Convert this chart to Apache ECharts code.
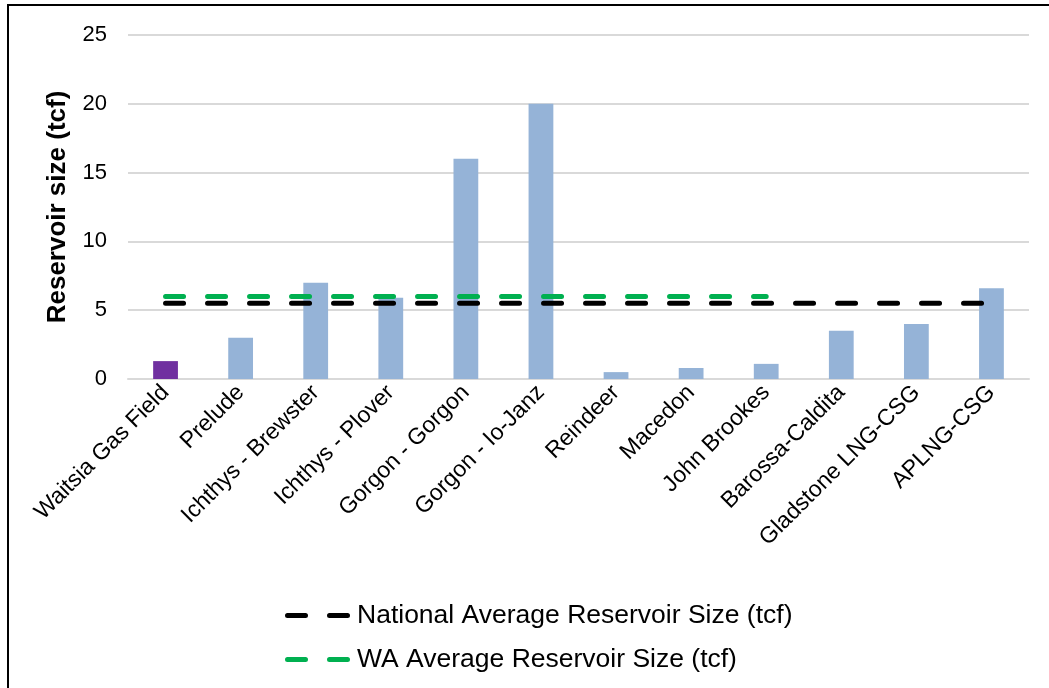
<!DOCTYPE html>
<html>
<head>
<meta charset="utf-8">
<script src="https://cdn.jsdelivr.net/npm/echarts@6/dist/echarts.min.js"></script>
<style>
html,body{margin:0;padding:0;background:#fff;}
#chart{width:1049px;height:688px;}
</style>
</head>
<body>
<div id="chart"></div>
<script>
const categories = ["Waitsia Gas Field","Prelude","Ichthys - Brewster","Ichthys - Plover","Gorgon - Gorgon","Gorgon - Io-Janz","Reindeer","Macedon","John Brookes","Barossa-Caldita","Gladstone LNG-CSG","APLNG-CSG"];
const reservoirSize = [1.3, 3.0, 7.0, 5.9, 16.0, 20.0, 0.5, 0.8, 1.1, 3.5, 4.0, 6.6];
const nationalAverage = [5.5,5.5,5.5,5.5,5.5,5.5,5.5,5.5,5.5,5.5,5.5,5.5];
const waAverage = [6.0,6.0,6.0,6.0,6.0,6.0,6.0,6.0,6.0,null,null,null];
const yTicks = [0,5,10,15,20,25];

const FONT = 'Liberation Sans, Arial, sans-serif';
const DASH_ICON = 'path://M2.5,0H20.5A2.5,2.5 0 0 1 20.5,5H2.5A2.5,2.5 0 0 1 2.5,0ZM44.5,0H62.5A2.5,2.5 0 0 1 62.5,5H44.5A2.5,2.5 0 0 1 44.5,0Z';
const chart = echarts.init(document.getElementById('chart'));
chart.setOption({
  backgroundColor:'#fff',
  animation:false,
  graphic:[{type:'rect',shape:{x:8,y:5,width:1100,height:800},style:{fill:'none',stroke:'#000',lineWidth:2},z:-1}],
  grid:{left:128,right:20,top:35,bottom:309,containLabel:false},
  legend:{
    data:[
      {name:'National Average Reservoir Size (tcf)',icon:DASH_ICON,itemStyle:{color:'#000'}},
      {name:'WA Average Reservoir Size (tcf)',icon:DASH_ICON,itemStyle:{color:'#00b050'}}
    ],
    orient:'vertical',left:280,top:597,itemWidth:65,itemHeight:5,itemGap:17,
    textStyle:{fontFamily:FONT,fontSize:26.5,color:'#000',padding:[0,0,0,2]}
  },
  xAxis:{
    type:'category',data:categories,
    axisLine:{lineStyle:{color:'#d9d9d9',width:2}},
    axisTick:{show:false},
    axisLabel:{rotate:45,interval:0,fontFamily:FONT,fontSize:23,color:'#000',margin:10}
  },
  yAxis:{
    type:'value',min:0,max:25,interval:5,
    name:'Reservoir size (tcf)',nameLocation:'middle',nameGap:57,
    nameTextStyle:{fontFamily:FONT,fontSize:26,fontWeight:'bold',color:'#000'},
    axisLine:{show:false},axisTick:{show:false},
    axisLabel:{fontFamily:FONT,fontSize:22,color:'#000',margin:21,formatter:v=>yTicks.includes(v)?String(v):''},
    splitLine:{lineStyle:{color:'#d9d9d9',width:2}}
  },
  series:[
    {type:'bar',name:'Reservoir size',barWidth:'33%',
     data:reservoirSize.map((v,i)=>({value:v,itemStyle:{color:i===0?'#7030a0':'#95b3d7'}})),z:2},
    {type:'line',name:'National Average Reservoir Size (tcf)',data:nationalAverage,symbol:'none',
     lineStyle:{color:'#000',width:5,type:[18,24],cap:'round'},itemStyle:{color:'#000'},z:3},
    {type:'line',name:'WA Average Reservoir Size (tcf)',data:waAverage,symbol:'none',
     lineStyle:{color:'#00b050',width:5,type:[18,24],cap:'round'},itemStyle:{color:'#00b050'},z:3}
  ]
});
</script>
</body>
</html>
